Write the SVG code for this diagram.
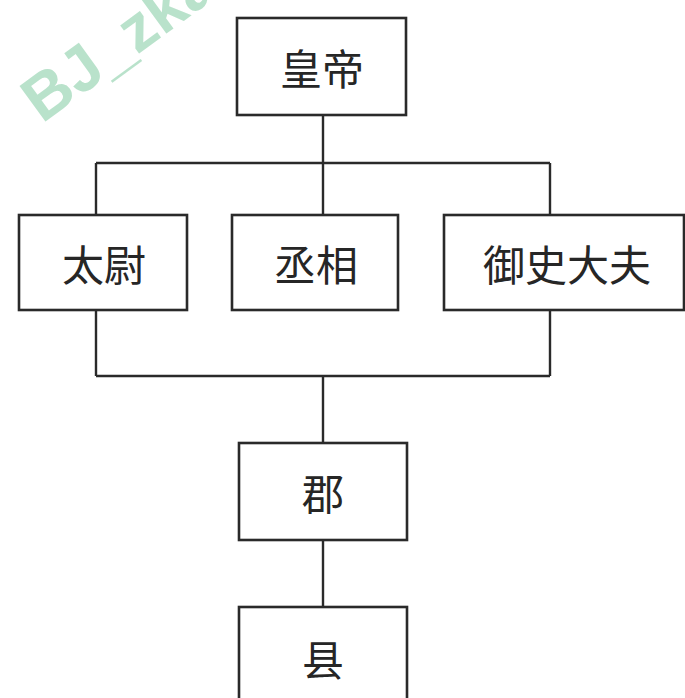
<svg xmlns="http://www.w3.org/2000/svg" width="685" height="698" viewBox="0 0 685 698">
<style>
.box{fill:#ffffff;stroke:#2a2a2a;stroke-width:2.6}
.lbl{font-family:"Noto Sans CJK SC","Noto Sans CJK JP",sans-serif;font-size:42px;fill:#262626;text-anchor:middle;dominant-baseline:central}
.con{stroke:#2a2a2a;stroke-width:2.4;fill:none}
.wm{font-family:"Liberation Sans",Arial,sans-serif;font-weight:bold;font-size:64px;fill:#b9e2cb}
</style>
<rect width="685" height="698" fill="#ffffff"/>
<g id="watermark">
<text class="wm" transform="translate(42,124) rotate(-36)">BJ_zka</text>
</g>
<g id="connectors">
<path class="con" d="M323 115 V163 M96 163 H550 M96 163 V215 M323 163 V215 M550 163 V215"/>
<path class="con" d="M96 310 V376 M550 310 V376 M96 376 H550 M323 376 V443"/>
<path class="con" d="M323 540 V607"/>
</g>
<g id="emperor">
<rect class="box" x="237" y="18" width="169" height="97"/>
<text class="lbl" x="322" y="66">皇帝</text>
</g>
<g id="taiwei">
<rect class="box" x="19" y="215" width="168" height="95"/>
<text class="lbl" x="104" y="262">太尉</text>
</g>
<g id="chengxiang">
<rect class="box" x="232" y="215" width="166" height="95"/>
<text class="lbl" x="316" y="262">丞相</text>
</g>
<g id="yushidafu">
<rect class="box" x="444" y="215" width="240" height="95"/>
<text class="lbl" x="567" y="262">御史大夫</text>
</g>
<g id="jun">
<rect class="box" x="239" y="443" width="168" height="97"/>
<text class="lbl" x="323" y="491">郡</text>
</g>
<g id="xian">
<rect class="box" x="239" y="607" width="168" height="100"/>
<text class="lbl" x="323" y="657">县</text>
</g>
</svg>
